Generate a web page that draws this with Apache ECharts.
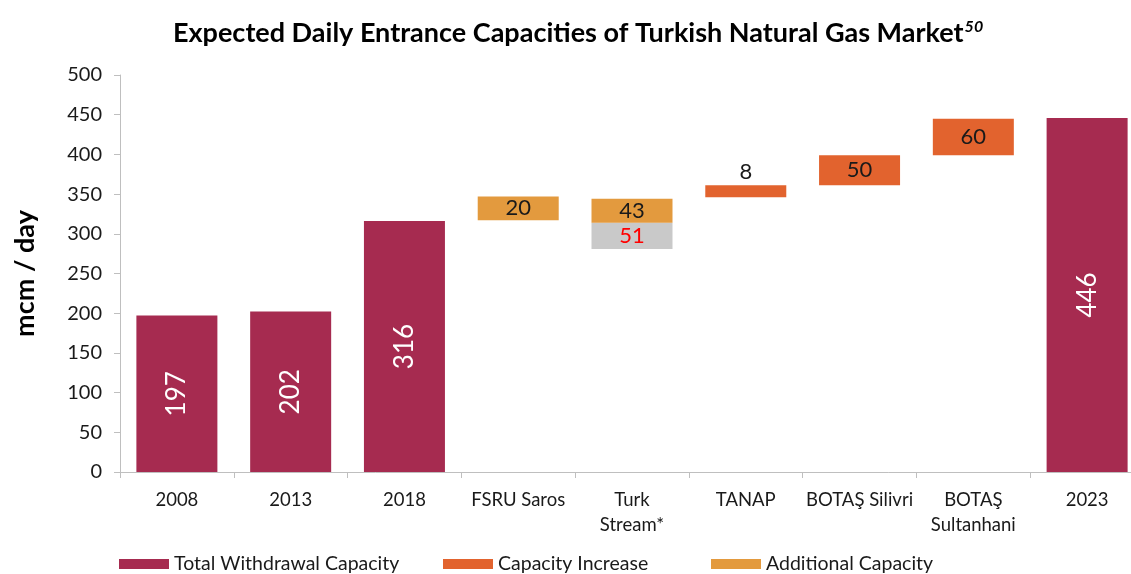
<!DOCTYPE html>
<html><head><meta charset="utf-8">
<script src="https://cdn.jsdelivr.net/npm/echarts@6/dist/echarts.min.js"></script>
<style>html,body{margin:0;padding:0;background:#fff;overflow:hidden;width:1131px;height:574px}#c{width:1144px;height:574px}</style>
</head><body><div id="c"></div>
<script>
const categories = ['2008','2013','2018','FSRU Saros','Turk\nStream*','TANAP','BOTAŞ Silivri','BOTAŞ\nSultanhani','2023'];
const yTicks = [0,50,100,150,200,250,300,350,400,450,500];
// Total withdrawal capacity bars (values as labelled)
const totalValues = [197,202,316,'-','-','-','-','-',446];
const grayBottom   = ['-','-','-','-',281,'-','-','-','-'];
const grayTop      = ['-','-','-','-',314,'-','-','-','-'];
const grayLabels   = ['','','','','51','','','',''];
const addBottom    = ['-','-','-',317,314,'-','-','-','-'];
const addTop       = ['-','-','-',347,344,'-','-','-','-'];
const addLabels    = ['','','','20','43','','','',''];
const incBottom    = ['-','-','-','-','-',346,361,399,'-'];
const incTop       = ['-','-','-','-','-',361,399,445,'-'];
const incLabels    = ['','','','','','8','50','60',''];
const legendNames  = ['Total Withdrawal Capacity','Capacity Increase','Additional Capacity'];

const C_TOTAL = '#A62B50', C_INC = '#E2632E', C_ADD = '#E39A3E', C_GRAY = '#C9C9C9';
const FONT = 'Lato';

function diff(top, bottom){ return top.map((t,i)=> t==='-'||bottom[i]==='-' ? '-' : t-bottom[i]); }
const base = categories.map((_,i)=>{
  const b = [grayBottom[i], addBottom[i], incBottom[i]].filter(v=>v!=='-');
  return b.length ? Math.min(...b) : '-';
});
const grayData = diff(grayTop, grayBottom);
const addData = categories.map((_,i)=>{
  if (addTop[i]==='-') return '-';
  const under = grayTop[i]!=='-' ? grayTop[i] : base[i];
  return addTop[i]-under;
});
const incData = diff(incTop, incBottom).map((v,i)=> i===5 ? { value: v, label: { position: 'top', distance: 2 } } : v);

const chart = echarts.init(document.getElementById('c'));
const segLabel = (labels, color) => ({
  show: true, position: 'inside', color: color || '#1a1a1a', fontSize: 22, fontFamily: FONT,
  formatter: p => labels[p.dataIndex]
});
const legendLefts = [119, 443, 711];
chart.setOption({
  animation: false,
  title: {
    text: '{a|Expected Daily Entrance Capacities of Turkish Natural Gas Market}{s|50}',
    left: 168, top: 14,
    textStyle: { rich: {
      a: { fontFamily: FONT, fontWeight: 'bold', fontSize: 27, color: '#000' },
      s: { fontFamily: FONT, fontWeight: 'bold', fontStyle: 'italic', fontSize: 16, color: '#000', verticalAlign: 'top', padding: [0,0,12,1] }
    } }
  },
  legend: legendNames.map((n,i)=>({
    data: [n], left: legendLefts[i], top: 554, padding: 0, itemWidth: 50, itemHeight: 10, itemGap: 0,
    icon: 'rect', textStyle: { fontFamily: FONT, fontSize: 19.5, color: '#1a1a1a' }
  })),
  grid: { left: 120, top: 75, height: 397, width: 1024 },
  xAxis: {
    type: 'category', data: categories,
    axisLine: { lineStyle: { color: '#BFBFBF' } },
    axisTick: { show: true, length: 6, lineStyle: { color: '#BFBFBF' } },
    axisLabel: { interval: 0, fontFamily: FONT, fontSize: 18.5, color: '#1a1a1a', margin: 16, lineHeight: 25 }
  },
  yAxis: {
    type: 'value', min: 0, max: 500, interval: 50,
    name: 'mcm / day', nameLocation: 'middle', nameGap: 81,
    nameTextStyle: { fontFamily: FONT, fontWeight: 'bold', fontSize: 27, color: '#000' },
    axisLine: { show: true, lineStyle: { color: '#BFBFBF' } },
    axisTick: { show: true, length: 6, lineStyle: { color: '#BFBFBF' } },
    splitLine: { show: false },
    axisLabel: { fontFamily: FONT, fontSize: 20, color: '#1a1a1a', margin: 18,
      formatter: v => yTicks.includes(v) ? String(v) : '' }
  },
  series: [
    { name: 'Total Withdrawal Capacity', type: 'bar', stack: 'w', data: totalValues, barWidth: 81,
      itemStyle: { color: C_TOTAL },
      label: { show: true, position: 'inside', rotate: 90, color: '#fff', fontSize: 26, fontFamily: FONT } },
    { name: 'base', type: 'bar', stack: 'w', data: base, itemStyle: { color: 'transparent' }, silent: true },
    { name: 'Turk Stream existing', type: 'bar', stack: 'w', data: grayData, itemStyle: { color: C_GRAY },
      label: segLabel(grayLabels, '#FF0000') },
    { name: 'Additional Capacity', type: 'bar', stack: 'w', data: addData, itemStyle: { color: C_ADD },
      label: segLabel(addLabels) },
    { name: 'Capacity Increase', type: 'bar', stack: 'w', data: incData, itemStyle: { color: C_INC },
      label: segLabel(incLabels) }
  ]
});
</script></body></html>
